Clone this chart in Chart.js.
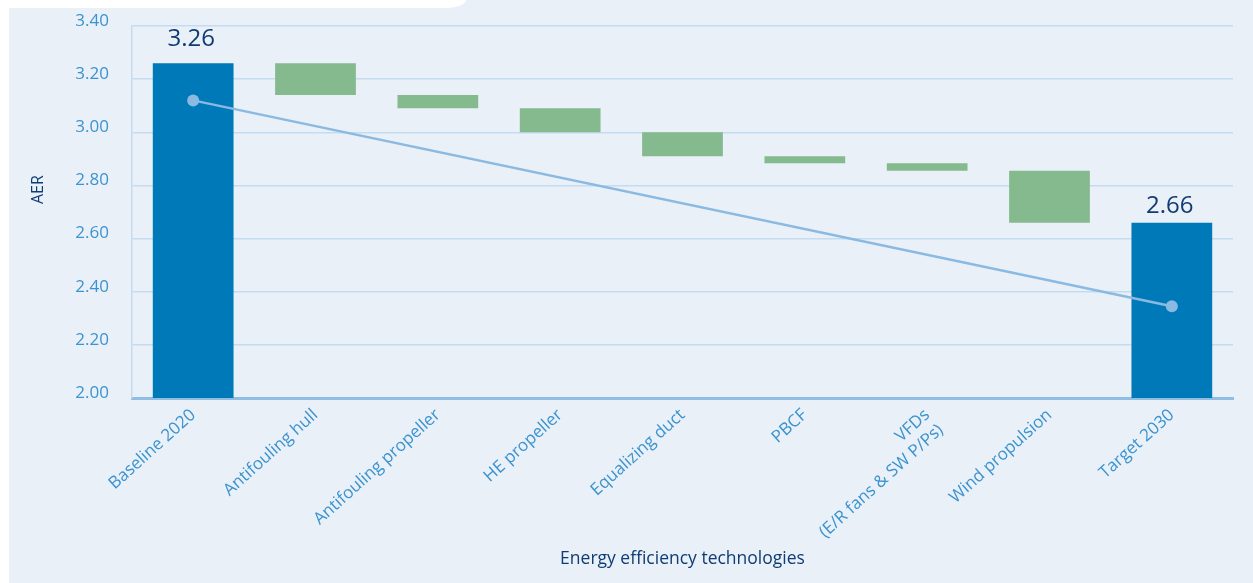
<!DOCTYPE html>
<html>
<head>
<meta charset="utf-8">
<script src="https://cdn.jsdelivr.net/npm/chart.js@4/dist/chart.umd.min.js"></script>
<style>
  html, body { margin: 0; padding: 0; background: #ffffff; }
  #wrap { position: relative; width: 1253px; height: 583px; overflow: hidden; }
  #panel { position: absolute; left: 9px; top: 0; right: 0; bottom: 0; background: #e9f0f8; }
  #tab { position: absolute; left: 0; top: 0; width: 466px; height: 8px; background: #ffffff; border-bottom-right-radius: 22px 8px; }
  #chart { position: absolute; left: 0; top: 0; }
</style>
</head>
<body>
<div id="wrap">
  <div id="panel"></div>
  <div id="tab"></div>
  <canvas id="chart" width="1253" height="583"></canvas>
</div>
<script>
// categories along the x axis
const categories = [
  'Baseline 2020',
  'Antifouling hull',
  'Antifouling propeller',
  'HE propeller',
  'Equalizing duct',
  'PBCF',
  ['VFDs', '(E/R fans & SW P/Ps)'],
  'Wind propulsion',
  'Target 2030'
];

// AER totals (first and last bar)
const totals = [3.26, 2.66];

// each technology step: from top to bottom of the floating bar
const stepTops    = [3.26, 3.14, 3.09, 3.00, 2.91, 2.883, 2.855];
const stepBottoms = [3.14, 3.09, 3.00, 2.91, 2.883, 2.855, 2.66];

// trend line between baseline and target
const trendLine = [3.12, 2.345];

const yMin = 2.0, yMax = 3.4, yStep = 0.2;

const BLUE = '#0079b8';
const GREEN = '#85ba8f';
const LINE = '#8ab9e1';
const TICK = '#3b93cf';
const NAVY = '#0f3c72';
const FONT = "'Open Sans', sans-serif";

const barData = [totals[0]];
const barColors = [BLUE];
for (let i = 0; i < stepTops.length; i++) {
  barData.push([stepBottoms[i], stepTops[i]]);
  barColors.push(GREEN);
}
barData.push(totals[1]);
barColors.push(BLUE);

const lineData = categories.map(() => null);
lineData[0] = trendLine[0];
lineData[categories.length - 1] = trendLine[1];

// numbers above the two total bars, plus the y axis name
const totalLabels = {
  id: 'totalLabels',
  afterDatasetsDraw(chart) {
    const ctx = chart.ctx;
    const meta = chart.getDatasetMeta(0);
    const idx = [0, categories.length - 1];
    const gaps = [17, 10];
    ctx.save();
    ctx.font = '24px ' + FONT;
    ctx.fillStyle = NAVY;
    ctx.textAlign = 'center';
    ctx.textBaseline = 'alphabetic';
    idx.forEach((k, j) => {
      const bar = meta.data[k];
      ctx.fillText(totals[j].toFixed(2), bar.x - 2, bar.y - gaps[j]);
    });

    const area = chart.chartArea;
    ctx.font = '16px ' + FONT;
    ctx.textBaseline = 'middle';
    ctx.translate(38, area.top + (area.bottom - area.top) * 0.44);
    ctx.rotate(-Math.PI / 2);
    ctx.fillText('AER', 0, 0);
    ctx.restore();
  }
};

new Chart(document.getElementById('chart'), {
  data: {
    labels: categories,
    datasets: [
      {
        type: 'bar',
        data: barData,
        backgroundColor: barColors,
        borderWidth: 0,
        barPercentage: 0.66,
        categoryPercentage: 1,
        order: 2
      },
      {
        type: 'line',
        data: lineData,
        spanGaps: true,
        borderColor: LINE,
        borderWidth: 2.5,
        pointRadius: 6,
        pointBackgroundColor: LINE,
        pointBorderWidth: 0,
        order: 1
      }
    ]
  },
  options: {
    responsive: false,
    devicePixelRatio: 1,
    animation: false,
    layout: { padding: { left: 20, right: 20, top: 26, bottom: 10 } },
    plugins: {
      legend: { display: false },
      tooltip: { enabled: false }
    },
    scales: {
      x: {
        offset: true,
        grid: { display: true, color: 'transparent', drawTicks: false },
        border: { display: true, color: '#8fbde3', width: 3 },
        ticks: {
          color: TICK,
          font: { family: FONT, size: 17 },
          minRotation: 42,
          maxRotation: 42,
          autoSkip: false,
          padding: 7
        },
        title: {
          display: true,
          text: 'Energy efficiency technologies',
          color: NAVY,
          font: { family: FONT, size: 17.5 },
          padding: { top: 0, bottom: 3 }
        },
        afterFit(scale) {
          scale.height = 175;
          scale.paddingLeft = 0;
          scale.paddingRight = 0;
        }
      },
      y: {
        min: yMin,
        max: yMax,
        grid: { color: '#c3dcf0', lineWidth: 1.5, drawTicks: false },
        border: { display: true, color: '#c5dcf0', width: 1.5 },
        ticks: {
          stepSize: yStep,
          color: TICK,
          font: { family: FONT, size: 17 },
          padding: 23,
          labelOffset: -5,
          callback: v => v.toFixed(2)
        },
        afterFit(scale) {
          scale.width = 112;
          scale.paddingTop = 0;
          scale.paddingBottom = 0;
        }
      }
    }
  },
  plugins: [totalLabels]
});
</script>
</body>
</html>
